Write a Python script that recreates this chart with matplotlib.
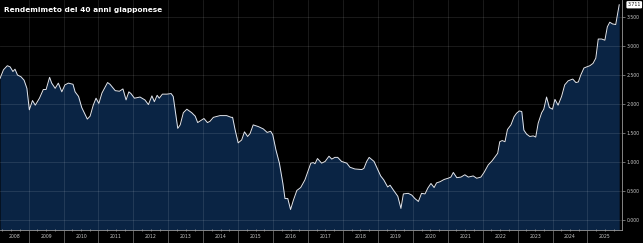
import numpy as np
import matplotlib
matplotlib.use("Agg")
import matplotlib.pyplot as plt
from matplotlib.transforms import blended_transform_factory

# 40-year JGB yield (%): decimal year, value
dates = [
    2008.18, 2008.28, 2008.39, 2008.47, 2008.55, 2008.61, 2008.68, 2008.78, 2008.87, 2008.95,
    2009.02, 2009.11, 2009.19, 2009.31, 2009.42, 2009.50, 2009.60, 2009.66, 2009.76, 2009.85,
    2009.95, 2010.04, 2010.14, 2010.27, 2010.33, 2010.43, 2010.52, 2010.68, 2010.76, 2010.85,
    2010.93, 2011.01, 2011.10, 2011.26, 2011.33, 2011.48, 2011.60, 2011.70, 2011.79, 2011.87,
    2011.93, 2012.03, 2012.19, 2012.33, 2012.43, 2012.53, 2012.60, 2012.68, 2012.74, 2012.83,
    2012.96, 2013.08, 2013.14, 2013.21, 2013.27, 2013.34, 2013.43, 2013.53, 2013.67, 2013.77,
    2013.84, 2013.94, 2014.02, 2014.12, 2014.19, 2014.29, 2014.48, 2014.67, 2014.80, 2014.84,
    2014.91, 2015.00, 2015.10, 2015.18, 2015.27, 2015.34, 2015.43, 2015.58, 2015.72, 2015.83,
    2015.93, 2015.99, 2016.08, 2016.18, 2016.28, 2016.34, 2016.42, 2016.50, 2016.58, 2016.68,
    2016.79, 2016.91, 2017.08, 2017.15, 2017.20, 2017.27, 2017.39, 2017.49, 2017.60, 2017.68,
    2017.77, 2017.85, 2017.96, 2018.11, 2018.20, 2018.34, 2018.54, 2018.60, 2018.68, 2018.75,
    2018.89, 2018.98, 2019.08, 2019.17, 2019.28, 2019.35, 2019.44, 2019.57, 2019.66, 2019.73,
    2019.87, 2019.97, 2020.06, 2020.16, 2020.25, 2020.35, 2020.43, 2020.52, 2020.61, 2020.68,
    2020.78, 2020.90, 2021.01, 2021.09, 2021.16, 2021.26, 2021.38, 2021.49, 2021.59, 2021.73,
    2021.83, 2021.95, 2022.04, 2022.16, 2022.27, 2022.37, 2022.43, 2022.49, 2022.56, 2022.64,
    2022.71, 2022.81, 2022.90, 2022.97, 2023.05, 2023.12, 2023.18, 2023.26, 2023.35, 2023.45,
    2023.52, 2023.59, 2023.69, 2023.75, 2023.83, 2023.91, 2024.00, 2024.07, 2024.16, 2024.26,
    2024.35, 2024.45, 2024.58, 2024.67, 2024.74, 2024.81, 2024.90, 2024.98, 2025.07, 2025.16,
    2025.24, 2025.31, 2025.41, 2025.50, 2025.57, 2025.64, 2025.72, 2025.81, 2025.91,
]
yields = [
    2.44, 2.59, 2.66, 2.64, 2.56, 2.60, 2.50, 2.47, 2.41, 2.27,
    1.90, 2.06, 1.98, 2.10, 2.25, 2.25, 2.46, 2.36, 2.27, 2.36,
    2.21, 2.33, 2.36, 2.34, 2.21, 2.13, 1.94, 1.74, 1.79, 1.98,
    2.10, 2.01, 2.19, 2.37, 2.34, 2.23, 2.22, 2.26, 2.07, 2.21,
    2.18, 2.10, 2.12, 2.07, 1.99, 2.14, 2.04, 2.15, 2.10, 2.17,
    2.17, 2.18, 2.13, 1.84, 1.58, 1.64, 1.85, 1.91, 1.85, 1.79,
    1.68, 1.72, 1.75, 1.68, 1.70, 1.77, 1.80, 1.80, 1.77, 1.77,
    1.56, 1.33, 1.38, 1.52, 1.44, 1.49, 1.64, 1.61, 1.57, 1.51,
    1.53, 1.47, 1.21, 0.98, 0.63, 0.37, 0.37, 0.18, 0.34, 0.51,
    0.56, 0.69, 0.98, 0.99, 0.97, 1.06, 0.98, 1.01, 1.10, 1.05,
    1.08, 1.08, 1.01, 0.98, 0.91, 0.88, 0.87, 0.89, 1.01, 1.08,
    1.01, 0.89, 0.76, 0.69, 0.57, 0.60, 0.52, 0.41, 0.20, 0.45,
    0.46, 0.43, 0.37, 0.32, 0.46, 0.45, 0.55, 0.63, 0.56, 0.64,
    0.66, 0.70, 0.72, 0.74, 0.82, 0.73, 0.74, 0.78, 0.74, 0.76,
    0.72, 0.74, 0.82, 0.95, 1.02, 1.10, 1.15, 1.35, 1.37, 1.35,
    1.56, 1.64, 1.78, 1.84, 1.88, 1.87, 1.55, 1.48, 1.44, 1.45,
    1.43, 1.67, 1.85, 1.91, 2.12, 1.94, 1.91, 2.08, 1.98, 2.13,
    2.33, 2.40, 2.43, 2.37, 2.38, 2.50, 2.62, 2.64, 2.66, 2.70,
    2.79, 3.12, 3.12, 3.10, 3.33, 3.41, 3.38, 3.37, 3.711,
]
years = list(range(2008, 2026))
y_ticks = [0.0, 0.5, 1.0, 1.5, 2.0, 2.5, 3.0, 3.5]

x0, x1 = 2008.18, 2025.99
y0, y1 = -0.172, 3.793

fig = plt.figure(figsize=(6.43, 2.43), dpi=100, facecolor="black")
ax = fig.add_axes([0.0, 13 / 243, 622 / 643, 230 / 243])
ax.set_facecolor("black")

ax.fill_between(dates, yields, y0, color="#0a2444", lw=0, zorder=1)
ax.plot(dates, yields, color="#e2e6ee", lw=0.7, zorder=3)

ax.set_xlim(x0, x1)
ax.set_ylim(y0, y1)

# grid
for yr in years[1:]:
    ax.axvline(yr, color="white", alpha=0.12, lw=0.6, zorder=2)
for t in y_ticks:
    ax.axhline(t, color="white", alpha=0.12, lw=0.6, zorder=2)

# spines
for s in ["top", "left"]:
    ax.spines[s].set_visible(False)
ax.spines["bottom"].set_color("#9a9a9a")
ax.spines["bottom"].set_linewidth(0.6)
ax.spines["right"].set_color("#9a9a9a")
ax.spines["right"].set_linewidth(0.6)

# x ticks: year boundaries long, quarters short
ax.set_xticks(years[1:])
ax.set_xticklabels([])
ax.tick_params(axis="x", which="major", length=13, width=0.6, color="#666666", direction="out")
quarters = [yr + q for yr in years for q in (0.25, 0.5, 0.75) if x0 < yr + q < x1]
ax.set_xticks(quarters, minor=True)
ax.tick_params(axis="x", which="minor", length=1.5, width=0.5, color="#aaaaaa", direction="inout")

trans = blended_transform_factory(ax.transData, fig.transFigure)
for yr in years:
    a, b = max(yr, x0), min(yr + 1, x1)
    ax.text((a + b) / 2, 7 / 243, str(yr), transform=trans, color="#c8c8c8",
            fontsize=3.3, ha="center", va="center")

# y ticks on the right
ax.yaxis.tick_right()
ax.set_yticks(y_ticks)
ax.set_yticklabels([f"{t:.3f}" for t in y_ticks])
ax.tick_params(axis="y", length=2, width=0.5, color="#9a9a9a", labelcolor="#c8c8c8",
               labelsize=3.3, pad=1.5)

# last value tag
ax.annotate(f"{yields[-1]:.3f}", xy=(1, yields[-1]), xycoords=("axes fraction", "data"),
            xytext=(4, 0), textcoords="offset points", fontsize=3.3, color="#111111",
            va="center", ha="left",
            bbox=dict(boxstyle="round,pad=0.25", fc="white", ec="none"))

fig.text(4 / 643, 1 - 10 / 243, "Rendemimeto del 40 anni giapponese", color="white",
         fontsize=5.3, fontweight="bold", ha="left", va="center")

fig.savefig("out.png", dpi=100, facecolor="black")
